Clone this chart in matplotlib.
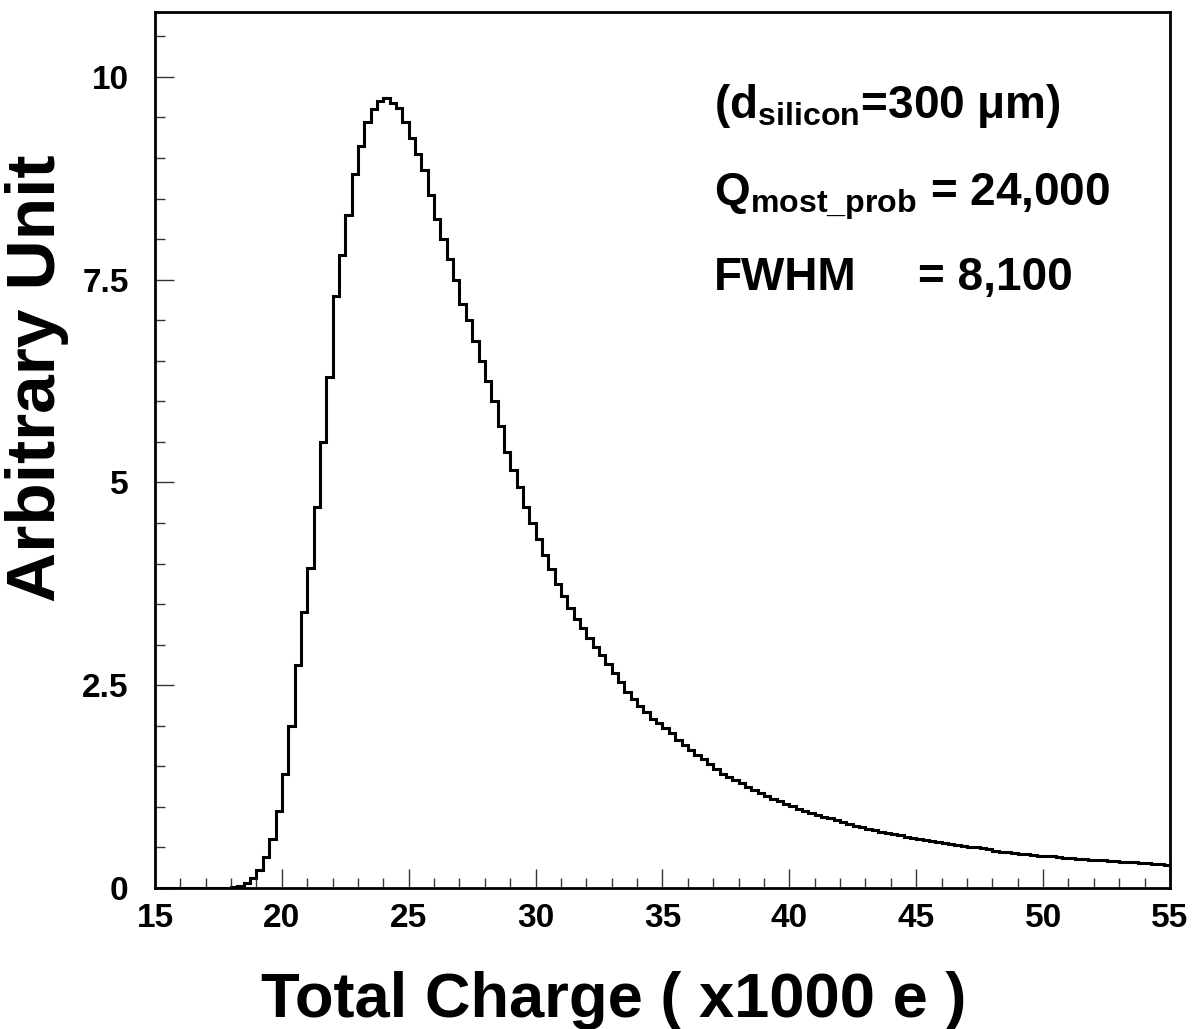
import matplotlib

matplotlib.use("Agg")

import matplotlib.pyplot as plt
import numpy as np
from matplotlib.ticker import MultipleLocator

# histogram: 160 bins of 0.25 (x1000 e) starting at 15
bin_lo = 15.0
bin_width = 0.25
counts = [
    # 15.0 - 17.75
    0, 0, 0, 0, 0, 0, 0, 0, 0, 0, 0, 0,
    # 18.0 - 20.75
    0.01, 0.02, 0.06, 0.12, 0.22, 0.38, 0.60, 0.95, 1.40, 2.00, 2.75, 3.40,
    # 21.0 - 23.75
    3.95, 4.70, 5.50, 6.30, 7.30, 7.80, 8.30, 8.80, 9.15, 9.45, 9.60, 9.70,
    # 24.0 - 26.75
    9.74, 9.68, 9.62, 9.45, 9.25, 9.05, 8.85, 8.55, 8.25, 8.00, 7.75, 7.50,
    # 27.0 - 29.75
    7.20, 7.00, 6.75, 6.50, 6.25, 6.00, 5.70, 5.38, 5.15, 4.95, 4.70, 4.50,
    # 30.0 - 32.75
    4.30, 4.10, 3.93, 3.75, 3.60, 3.45, 3.32, 3.20, 3.08, 2.97, 2.87, 2.76,
    # 33.0 - 35.75
    2.65, 2.54, 2.42, 2.33, 2.25, 2.17, 2.09, 2.03, 1.97, 1.91, 1.83, 1.76,
    # 36.0 - 38.75
    1.70, 1.64, 1.59, 1.53, 1.47, 1.41, 1.37, 1.33, 1.29, 1.25, 1.21, 1.17,
    # 39.0 - 41.75
    1.14, 1.10, 1.07, 1.04, 1.01, 0.98, 0.95, 0.93, 0.90, 0.88, 0.86, 0.84,
    # 42.0 - 44.75
    0.82, 0.79, 0.77, 0.75, 0.73, 0.71, 0.69, 0.68, 0.66, 0.65, 0.63, 0.62,
    # 45.0 - 47.75
    0.61, 0.59, 0.58, 0.57, 0.555, 0.54, 0.53, 0.52, 0.51, 0.50, 0.49, 0.475,
    # 48.0 - 50.75
    0.46, 0.45, 0.44, 0.43, 0.425, 0.415, 0.41, 0.40, 0.395, 0.39, 0.38, 0.375,
    # 51.0 - 53.75
    0.37, 0.36, 0.355, 0.35, 0.345, 0.34, 0.335, 0.33, 0.325, 0.32, 0.315, 0.31,
    # 54.0 - 54.75
    0.305, 0.30, 0.295, 0.29,
]

x_ticks = [15, 20, 25, 30, 35, 40, 45, 50, 55]
y_ticks = [0, 2.5, 5, 7.5, 10]
y_tick_labels = ["0", "2.5", "5", "7.5", "10"]

plt.rcParams["font.family"] = ["Liberation Sans", "DejaVu Sans"]
plt.rcParams["font.weight"] = "bold"
plt.rcParams["mathtext.default"] = "regular"

edges = bin_lo + bin_width * np.arange(len(counts) + 1)

fig = plt.figure(figsize=(11.94, 10.29), dpi=100)
ax = fig.add_axes([0.1298, 0.137, 0.8501, 0.8513])

ax.stairs(counts, edges, baseline=None, color="black", lw=2.2)

ax.set_xlim(15, 55)
ax.set_ylim(0, 10.8)

ax.set_xticks(x_ticks)
ax.set_xticklabels([str(t) for t in x_ticks])
ax.set_yticks(y_ticks)
ax.set_yticklabels(y_tick_labels)
ax.xaxis.set_minor_locator(MultipleLocator(1))
ax.yaxis.set_minor_locator(MultipleLocator(0.5))
ax.tick_params(which="both", direction="in", top=False, right=False, width=1.0, color="#333333")
ax.tick_params(which="major", length=14)
ax.tick_params(which="minor", length=7)
ax.tick_params(axis="x", which="major", pad=11, labelsize=24)
ax.tick_params(axis="y", which="major", pad=19, labelsize=24)
for lab in ax.get_xticklabels() + ax.get_yticklabels():
    lab.set_fontweight("bold")

for sp in ax.spines.values():
    sp.set_linewidth(2.0)

fig.text(0.514, 0.028, "Total Charge ( x1000 e )", ha="center", va="center",
         fontsize=45.5, fontweight="bold")
fig.text(0.031, 0.632, "Arbitrary Unit", ha="center", va="center", rotation=90,
         fontsize=50, fontweight="bold")

fs = 33
fig.text(714 / 1194, 1 - 118 / 1029, r"(d$_{silicon}$=300 μm)", ha="left", va="baseline",
         fontsize=fs, fontweight="bold")
fig.text(714 / 1194, 1 - 205 / 1029, r"Q$_{most\_prob}$ = 24,000", ha="left", va="baseline",
         fontsize=fs, fontweight="bold")
fig.text(714 / 1194, 1 - 290 / 1029, "FWHM", ha="left", va="baseline",
         fontsize=fs, fontweight="bold")
fig.text(918 / 1194, 1 - 290 / 1029, "= 8,100", ha="left", va="baseline",
         fontsize=fs, fontweight="bold")

fig.savefig("out.png", dpi=100)
plt.close(fig)
